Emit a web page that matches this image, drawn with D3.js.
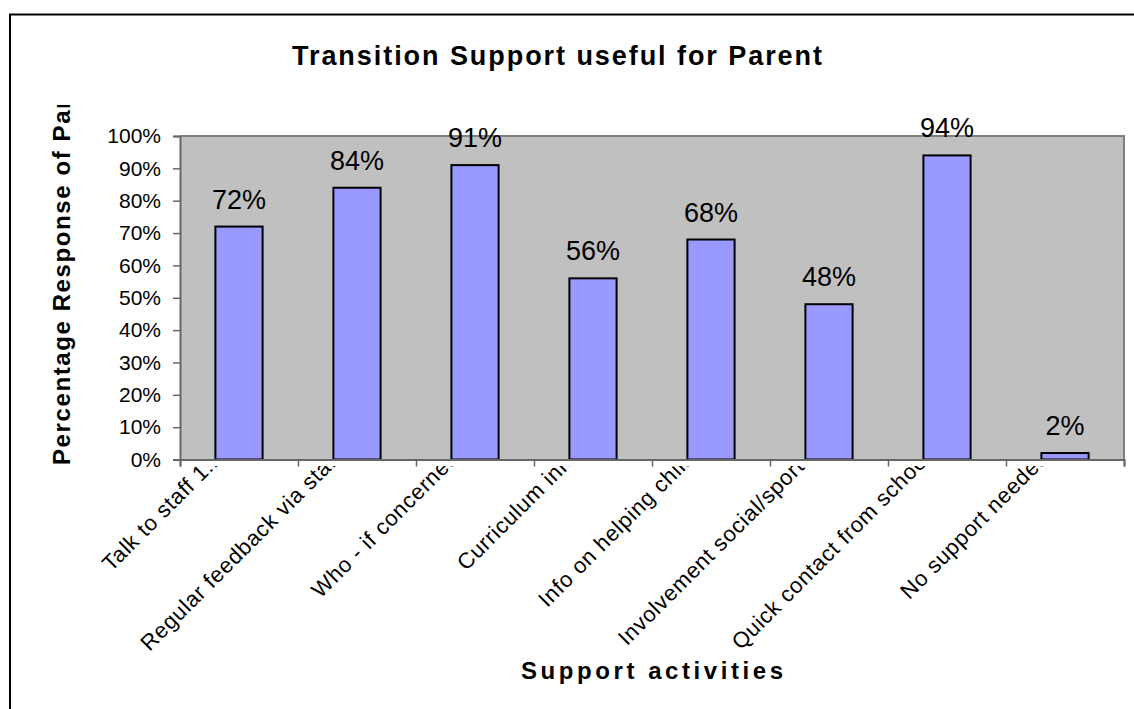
<!DOCTYPE html>
<html>
<head>
<meta charset="utf-8">
<script src="https://cdn.jsdelivr.net/npm/d3@7"></script>
<style>
  html, body { margin: 0; padding: 0; background: #fff; }
  svg { display: block; font-family: Arial, "Liberation Sans", sans-serif; }
</style>
</head>
<body>
<svg id="chart" width="1134" height="709"></svg>
<script>
// Survey results: share of parents who found each transition support useful
const categories = [
  "Talk to staff 1:1",
  "Regular feedback via staff",
  "Who - if concerned",
  "Curriculum info",
  "Info on helping child",
  "Involvement social/sports",
  "Quick contact from school",
  "No support needed"
];
const responseShare = [0.72, 0.84, 0.91, 0.56, 0.68, 0.48, 0.94, 0.02];
const yTickValues = [0, 0.1, 0.2, 0.3, 0.4, 0.5, 0.6, 0.7, 0.8, 0.9, 1.0];
const chartTitle = "Transition Support useful for Parent";
const yTitle = "Percentage Response of Parents";
const xTitle = "Support activities";

const svg = d3.select("#chart");
const plot = { left: 180, right: 1124, top: 136, bottom: 459.5 };

const x = d3.scaleBand()
  .domain(categories)
  .range([plot.left, plot.right])
  .paddingInner(0.6)
  .paddingOuter(0.3);
const xEdges = d3.scaleLinear()
  .domain([0, categories.length])
  .range([plot.left, plot.right]);
const y = d3.scaleLinear().domain([0, 1]).range([plot.bottom, plot.top]);

// chart frame
svg.append("rect")
  .attr("x", 10).attr("y", 14.5)
  .attr("width", 1200).attr("height", 800)
  .attr("fill", "none").attr("stroke", "#000").attr("stroke-width", 2);

// clipping regions for the overflowing titles / labels
const defs = svg.append("defs");
defs.append("clipPath").attr("id", "catClip")
  .append("rect").attr("x", 0).attr("y", 466).attr("width", 1134).attr("height", 243);
defs.append("clipPath").attr("id", "yTitleClip")
  .append("rect").attr("x", 0).attr("y", 105).attr("width", 120).attr("height", 604);

// plot area
svg.append("rect")
  .attr("x", plot.left).attr("y", plot.top)
  .attr("width", plot.right - plot.left).attr("height", plot.bottom - plot.top)
  .attr("fill", "#C0C0C0");
svg.append("path")
  .attr("d", `M${plot.left},${plot.top}H${plot.right}V${plot.bottom}`)
  .attr("fill", "none").attr("stroke", "#808080").attr("stroke-width", 2);

// bars
svg.append("g").selectAll("rect")
  .data(responseShare)
  .join("rect")
  .attr("x", (d, i) => x(categories[i]))
  .attr("y", d => y(d))
  .attr("width", x.bandwidth())
  .attr("height", d => y(0) - y(d))
  .attr("fill", "#9999FF")
  .attr("stroke", "#000")
  .attr("stroke-width", 2);

// value labels
svg.append("g").selectAll("text")
  .data(responseShare)
  .join("text")
  .attr("x", (d, i) => x(categories[i]) + x.bandwidth() / 2)
  .attr("y", d => y(d) - 18)
  .attr("text-anchor", "middle")
  .attr("font-size", 27)
  .attr("fill", "#000")
  .text(d => d3.format(".0%")(d));

// y axis
const yAxis = svg.append("g")
  .attr("transform", `translate(${plot.left},0)`)
  .call(d3.axisLeft(y).tickValues(yTickValues).tickFormat(d3.format(".0%")).tickSize(7).tickPadding(12));
yAxis.select(".domain").attr("stroke", "#666").attr("stroke-width", 2);
yAxis.selectAll(".tick line").attr("stroke", "#666").attr("stroke-width", 1.5);
yAxis.selectAll(".tick text").attr("font-size", 21).attr("fill", "#000")
  .attr("font-family", "Arial, 'Liberation Sans', sans-serif");

// x axis: ticks sit on the category boundaries
const xAxis = svg.append("g")
  .attr("transform", `translate(0,${plot.bottom})`)
  .call(d3.axisBottom(xEdges).tickValues(d3.range(categories.length + 1)).tickFormat("").tickSize(7));
xAxis.select(".domain").attr("stroke", "#666").attr("stroke-width", 2);
xAxis.selectAll(".tick line").attr("stroke", "#666").attr("stroke-width", 1.5);

// rotated category labels
svg.append("g").attr("clip-path", "url(#catClip)")
  .selectAll("text")
  .data(categories)
  .join("text")
  .attr("transform", d => `translate(${x(d) + x.bandwidth() / 2 - 15},${plot.bottom}) rotate(-45)`)
  .attr("text-anchor", "end")
  .attr("font-size", 22)
  .attr("letter-spacing", 0.7)
  .attr("fill", "#000")
  .text(d => d);

// chart title
svg.append("text")
  .attr("x", 557).attr("y", 65)
  .attr("text-anchor", "middle")
  .attr("font-size", 27).attr("font-weight", "bold")
  .attr("textLength", 530).attr("lengthAdjust", "spacing")
  .text(chartTitle);

// y axis title
svg.append("g").attr("clip-path", "url(#yTitleClip)")
  .append("text")
  .attr("transform", "translate(70,465) rotate(-90)")
  .attr("text-anchor", "start")
  .attr("font-size", 24).attr("font-weight", "bold")
  .attr("letter-spacing", 1.6)
  .text(yTitle);

// x axis title
svg.append("text")
  .attr("x", (plot.left + plot.right) / 2).attr("y", 679)
  .attr("text-anchor", "middle")
  .attr("font-size", 24).attr("font-weight", "bold")
  .attr("textLength", 262).attr("lengthAdjust", "spacing")
  .text(xTitle);
</script>
</body>
</html>
